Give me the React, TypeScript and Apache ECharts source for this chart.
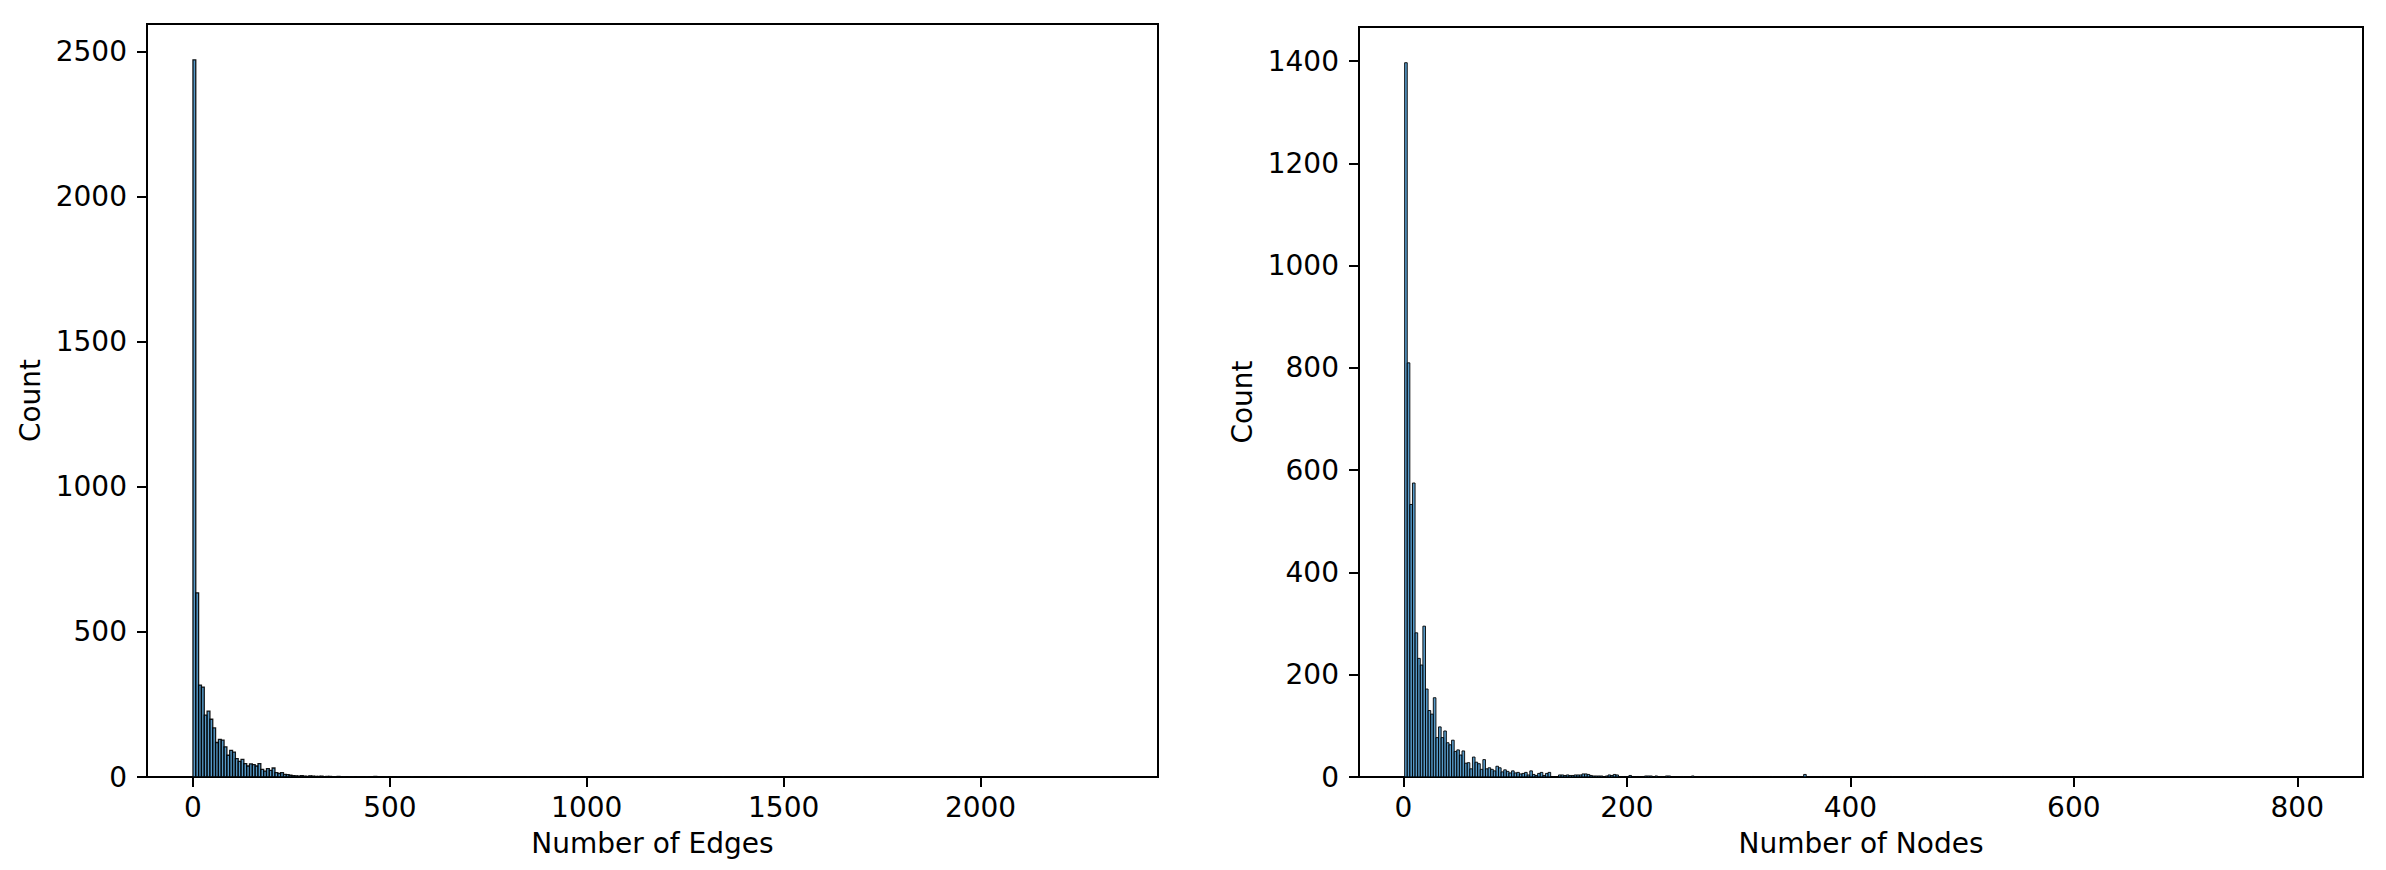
import React, { useEffect, useRef } from "react";
import * as echarts from "echarts";

// ---------- Data ----------
// Left panel: histogram of "Number of Edges"
const edgeRange = [0, 2334];
const edgeBinCount = 325;
const edgeDenseCounts = [
  2472, 635, 317, 310, 213, 227, 199, 169, 119, 130, 127, 104, 75, 92, 86, 63,
  54, 61, 46, 38, 45, 43, 38, 46, 26, 20, 29, 23, 31, 15, 12, 15, 9, 8, 6, 5,
  4, 3, 5, 3, 2, 4, 3, 2, 2, 3, 1, 2, 2, 1, 1, 2, 1, 1, 0, 1, 1,
];
const edgeTailCounts = [
  [58, 1], [61, 1], [64, 2], [68, 1], [72, 1], [77, 1], [83, 1], [90, 1],
  [97, 1], [108, 1], [118, 1], [131, 1], [140, 1], [163, 1], [187, 1],
  [204, 1], [236, 1], [270, 1], [324, 1],
];
const edgeXTicks = [0, 500, 1000, 1500, 2000];
const edgeYTicks = [0, 500, 1000, 1500, 2000, 2500];

// Right panel: histogram of "Number of Nodes"
const nodeRange = [1, 818];
const nodeBinCount = 350;
const nodeDenseCounts = [
  1397, 810, 533, 575, 282, 232, 219, 295, 172, 130, 123, 155, 77, 98, 77, 90,
  67, 63, 72, 50, 53, 43, 51, 27, 28, 16, 39, 29, 26, 15, 34, 16, 18, 15, 12,
  21, 18, 10, 14, 11, 8, 12, 8, 9, 6, 7, 9, 4, 12, 5, 3, 7, 9, 3, 7, 9, 1, 0,
  1, 4, 4, 3, 4, 3, 3, 4, 4, 4, 6, 6, 5, 3, 2, 2, 2, 2, 1, 2, 4, 3, 5, 4, 1, 1,
  1, 1, 3, 1, 0, 1, 0, 1, 2, 2, 2, 0, 2, 0, 1, 0, 2, 2,
];
const nodeTailCounts = [
  [106, 1], [110, 2], [115, 1], [121, 1], [127, 1], [133, 1], [140, 1],
  [146, 1], [153, 5], [160, 1], [171, 1], [186, 1], [199, 1], [213, 1],
  [229, 1], [262, 1], [300, 1], [349, 1],
];
const nodeXTicks = [0, 200, 400, 600, 800];
const nodeYTicks = [0, 200, 400, 600, 800, 1000, 1200, 1400];

// ---------- Helpers ----------
function buildBins(range: number[], binCount: number, dense: number[], tail: number[][]) {
  const w = (range[1] - range[0]) / binCount;
  const counts = new Array(binCount).fill(0);
  dense.forEach((c, i) => (counts[i] = c));
  tail.forEach(([i, c]) => (counts[i] = c));
  return counts
    .map((c, i) => [range[0] + i * w, range[0] + (i + 1) * w, c])
    .filter((d) => d[2] > 0);
}

const FONT = "DejaVu Sans";
const FILL = "rgba(31,119,180,0.75)";
const EDGE = "rgba(0,0,0,0.9)";
const plain = (v: number) => String(Math.round(v));

function xAxisCfg(gridIndex: number, range: number[], ticks: number[], name: string) {
  const span = range[1] - range[0];
  return {
    type: "value",
    gridIndex,
    min: range[0] - 0.05 * span,
    max: range[1] + 0.05 * span,
    splitLine: { show: false },
    axisLine: { show: false, onZero: false },
    axisTick: {
      show: true,
      length: 10,
      customValues: ticks,
      lineStyle: { color: "#000", width: 2 },
    },
    axisLabel: {
      customValues: ticks,
      formatter: plain,
      fontSize: 28,
      fontFamily: FONT,
      color: "#000",
      margin: 16,
    },
    name,
    nameLocation: "middle",
    nameGap: 52,
    nameTextStyle: { fontSize: 28, fontFamily: FONT, color: "#000", verticalAlign: "top" },
  };
}

function yAxisCfg(gridIndex: number, maxCount: number, ticks: number[]) {
  return {
    type: "value",
    gridIndex,
    min: 0,
    max: maxCount * 1.05,
    splitLine: { show: false },
    axisLine: { show: false, onZero: false },
    axisTick: {
      show: true,
      length: 10,
      customValues: ticks,
      lineStyle: { color: "#000", width: 2 },
    },
    axisLabel: {
      customValues: ticks,
      formatter: plain,
      fontSize: 28,
      fontFamily: FONT,
      color: "#000",
      margin: 20,
    },
    name: "Count",
    nameLocation: "middle",
    nameGap: 103,
    nameTextStyle: { fontSize: 28, fontFamily: FONT, color: "#000" },
  };
}

function histSeries(idx: number, data: number[][], lineWidth: number) {
  return {
    type: "custom",
    xAxisIndex: idx,
    yAxisIndex: idx,
    clip: true,
    encode: { x: [0, 1], y: 2 },
    data,
    renderItem: (params: any, api: any) => {
      const p0 = api.coord([api.value(0), api.value(2)]);
      const p1 = api.coord([api.value(1), 0]);
      return {
        type: "rect",
        shape: { x: p0[0], y: p0[1], width: p1[0] - p0[0], height: p1[1] - p0[1] },
        style: { fill: FILL, stroke: EDGE, lineWidth },
      };
    },
  };
}

export default function App() {
  const ref = useRef<HTMLDivElement>(null);

  useEffect(() => {
    document.body.style.margin = "0";
    if (!ref.current) return;
    const chart = echarts.init(ref.current, null, { renderer: "svg" });

    const edgeBins = buildBins(edgeRange, edgeBinCount, edgeDenseCounts, edgeTailCounts);
    const nodeBins = buildBins(nodeRange, nodeBinCount, nodeDenseCounts, nodeTailCounts);
    const edgeMax = Math.max(...edgeBins.map((d) => d[2]));
    const nodeMax = Math.max(...nodeBins.map((d) => d[2]));

    chart.setOption({
      animation: false,
      backgroundColor: "#fff",
      grid: [
        { left: 147, top: 24, width: 1011, height: 753, show: true, borderColor: "#000", borderWidth: 2, backgroundColor: "transparent" },
        { left: 1359, top: 27, width: 1004, height: 750, show: true, borderColor: "#000", borderWidth: 2, backgroundColor: "transparent" },
      ],
      xAxis: [
        xAxisCfg(0, edgeRange, edgeXTicks, "Number of Edges"),
        xAxisCfg(1, nodeRange, nodeXTicks, "Number of Nodes"),
      ],
      yAxis: [yAxisCfg(0, edgeMax, edgeYTicks), yAxisCfg(1, nodeMax, nodeYTicks)],
      series: [histSeries(0, edgeBins, 1.3), histSeries(1, nodeBins, 1)],
    });

    return () => chart.dispose();
  }, []);

  return <div ref={ref} style={{ width: 2386, height: 870 }} />;
}
